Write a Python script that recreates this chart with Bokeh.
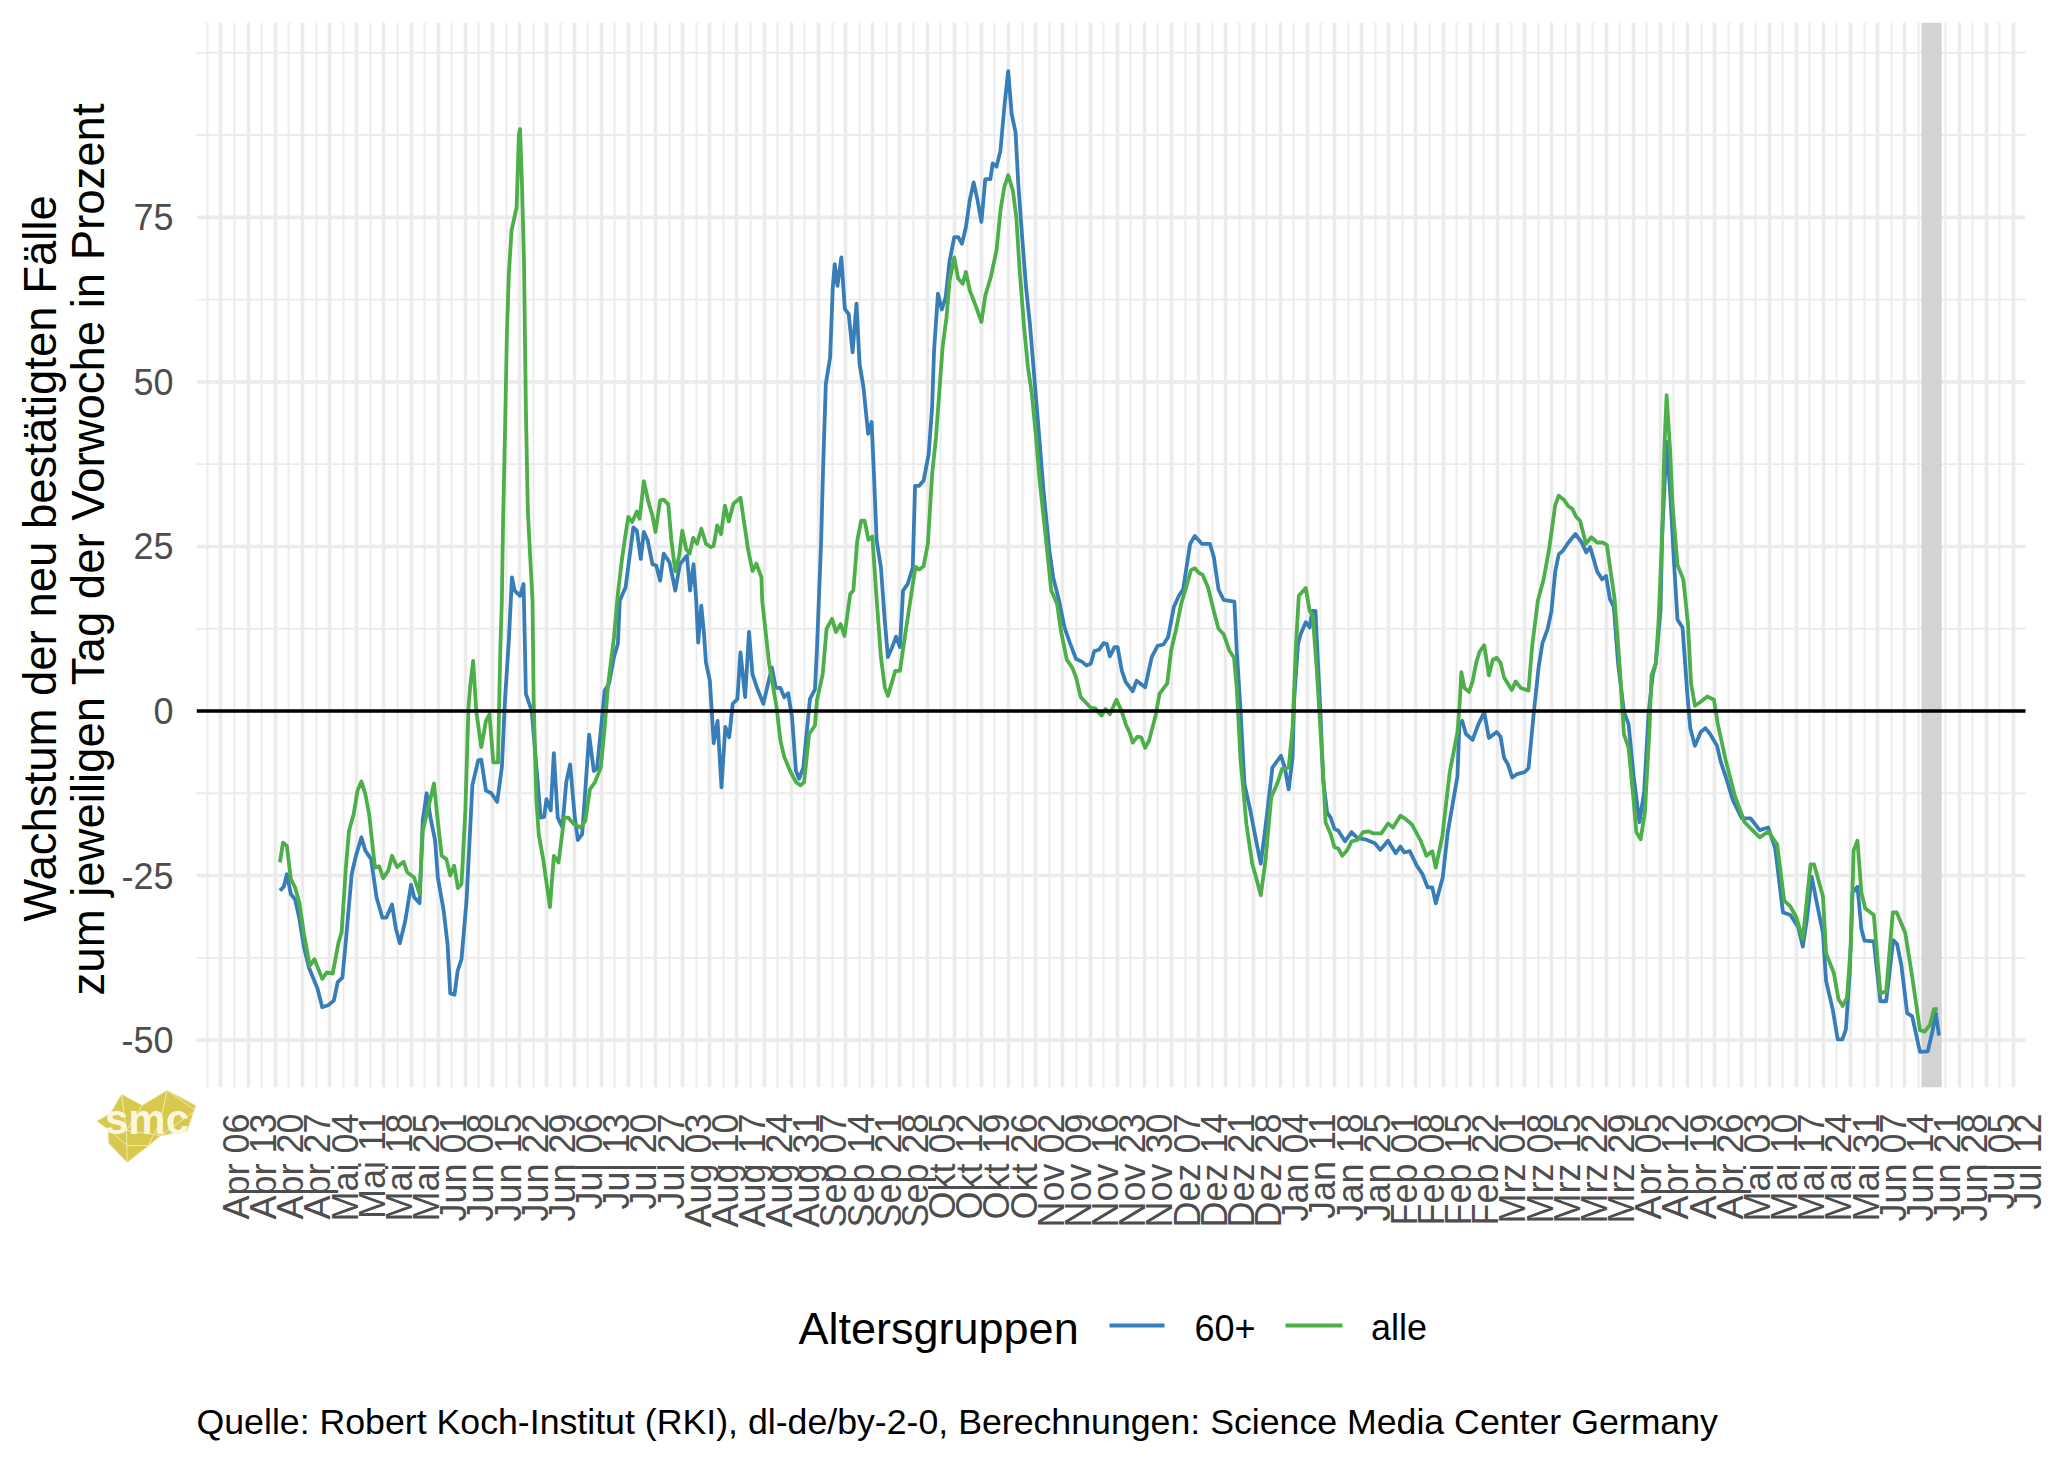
from bokeh.plotting import figure
from bokeh.core.properties import value
from bokeh.models import Range1d, LinearAxis, FixedTicker, Grid
from bokeh.embed import file_html
from bokeh.resources import INLINE

# tick labels, one per week starting Monday 6 April 2020 (x = days since that date)
tick_labels = ["Apr 06","Apr 13","Apr 20","Apr 27","Mai 04","Mai 11","Mai 18","Mai 25",
"Jun 01","Jun 08","Jun 15","Jun 22","Jun 29","Jul 06","Jul 13","Jul 20","Jul 27",
"Aug 03","Aug 10","Aug 17","Aug 24","Aug 31","Sep 07","Sep 14","Sep 21","Sep 28",
"Okt 05","Okt 12","Okt 19","Okt 26","Nov 02","Nov 09","Nov 16","Nov 23","Nov 30",
"Dez 07","Dez 14","Dez 21","Dez 28","Jan 04","Jan 11","Jan 18","Jan 25",
"Feb 01","Feb 08","Feb 15","Feb 22","Mrz 01","Mrz 08","Mrz 15","Mrz 22","Mrz 29",
"Apr 05","Apr 12","Apr 19","Apr 26","Mai 03","Mai 10","Mai 17","Mai 24","Mai 31",
"Jun 07","Jun 14","Jun 21","Jun 28","Jul 05","Jul 12"]

y_major = [-50,-25,0,25,50,75]
y_minor = [-37.5,-12.5,12.5,37.5,62.5,87.5,100]

band_start = [438.3]
band_end = [443.5]

blue_day = [15.2,16.2,17,18,19.1,20.2,21.4,22.7,24.9,26.1,27.6,29.1,30.1,31.3,32.2,33.7,34.7,36.2,37.2,38.7,40.1,41.6,42.6,44.1,45.1,46.1,47.5,49,49.8,51.2,52,53,54,55.2,55.9,57.4,58.4,59.1,60.2,61,62,63.3,64.8,66.3,67.1,68.3,69.7,71.2,72.4,73.2,74.2,75,75.7,77.1,78,78.6,80.1,80.6,82.4,83.3,83.9,85,85.8,86.8,88,89,90,91.2,92,93.1,93.9,94.9,96.1,96.9,97.9,98.9,100,101.3,102.3,102.8,104.3,105.3,106.3,107.2,108.2,109,110,111.2,112.2,113.2,114.1,115.6,117.1,118.3,120.1,120.9,121.8,122.5,123,123.8,124.5,125,126,126.5,127,128,129,130,131,131.9,133.1,133.9,135.1,136.1,137,138.3,139.8,140.8,142,143,144.2,145.2,146.2,147.2,148.2,149,150.1,151.8,153.1,153.6,154.7,155.2,155.9,157,157.7,158.2,158.9,159.9,160.8,161.8,162.8,163.8,164.6,165.6,166.8,167.7,168.3,169,170.1,171.1,171.9,173,174,175,175.8,177,178.3,178.9,179.9,181.1,182.4,183.3,183.8,184.8,185.8,186.8,187.8,189,190,191,192,193,194,195,196,197,198.3,198.9,199.9,200.9,201.9,202.9,203.8,204.8,205.5,206.5,207.5,208.5,209.7,210.7,212,213.5,214.5,216,217.4,218.9,220.4,221.9,223.1,224.2,225.1,226.3,227.5,228.3,229.1,230.3,231.1,232.2,233.2,235,236,238.2,239.9,241.4,242.9,244.1,245.6,246.9,248,249.8,251,252.8,254.9,255.9,257.1,258.4,261.2,261.8,262.8,263.8,265.3,266.8,268,269.2,271,273.2,274.2,275.2,276.2,276.6,277.6,278.3,279.6,280.6,281.3,282.1,282.8,283.4,284.1,285.1,286,287,288,289.7,291.4,292.9,294.9,297.4,298.8,300.8,302.8,304,305,306.4,308.2,309.7,311,312.2,313.1,314.9,316.2,318.7,319.2,319.9,320.9,322.6,324.1,325.6,326.8,328.8,329.8,330.7,331.7,332.8,334,336,337,338.4,339.6,340.6,341.9,342.9,343.9,344.8,345.8,347.3,349.1,350.8,351.9,352.9,354.7,356,357,358,359,360.1,361.6,362.8,364.1,365.6,366.8,368,369,369.8,371,371.5,372.6,373.5,374.4,375.4,376.7,377.9,378.7,379.9,381.4,382.6,383.8,385.6,386.6,387.8,389.7,392,394.2,396.6,398.8,400.6,402.6,404.5,406.5,407.7,408.7,410,411.4,412.9,413.7,415.4,416.7,417.9,418.8,419.8,420.5,421.8,422.8,423.6,426,427.7,429.2,431,432,433.1,434.6,435.9,437.9,439.9,441,442,442.8]
blue_val = [-27.3,-26.7,-24.8,-27.8,-28.6,-31.5,-35.9,-39,-42.2,-45,-44.7,-44,-41.2,-40.5,-34.9,-24.8,-22.2,-19.2,-21.2,-22.5,-28.3,-31.4,-31.4,-29.4,-33.1,-35.3,-31.9,-26.4,-28.3,-29.2,-16.7,-12.5,-16.2,-19.7,-25.3,-30.3,-35.4,-42.9,-43.1,-39.5,-37.7,-28.8,-11.3,-7.5,-7.4,-12.1,-12.5,-13.8,-8.6,1.6,10.7,20.3,18.3,17.5,19.3,2.6,0,-3.5,-16.2,-16.1,-13.4,-15.1,-6.4,-16.2,-17.7,-10.8,-8.1,-16.2,-19.6,-18.7,-12.1,-3.6,-9.1,-8.8,-3,3.1,4.1,8.2,10.2,16.8,18.8,23.4,27.9,27.4,23.1,27.2,25.9,22.3,22.1,19.8,23.9,22.6,18.3,22.3,23.6,18.3,22.3,16.8,10.4,16,11.7,7.4,4.6,0,-4.9,-1.5,-11.6,-2.4,-4,1.1,1.8,8.9,2.1,12,5.6,3.3,1.1,3.6,6.6,3.5,3.5,2.1,2.7,-1,-9.1,-10.3,-8.6,1.8,3.3,9.2,25.9,37,49.7,53.7,64.4,67.9,64.6,68.9,61.1,60.3,54.5,61.9,52.7,49.2,42.1,43.9,36,25.9,21.8,13.7,8.2,9.7,11.3,9.7,18.3,19.3,21.8,34.2,34.2,35,39,46.2,54.8,63.4,61,62.9,68.4,72,72,71,73.5,77.6,80.3,77.6,74.3,80.8,80.8,83.2,82.7,85.1,91.7,97.2,90.7,87.9,80.1,72,64.4,58.8,50.2,43.1,33.5,24.4,20.3,16.8,12.7,10.2,7.9,7.5,6.9,7.2,9.1,9.3,10.3,10.2,8.3,9.7,9.7,6.1,4.4,3,4.6,3.6,8.2,9.9,10.1,11.2,15.8,17.5,18.5,25.4,26.6,25.4,25.4,23.4,18.5,16.9,16.6,9.2,0,-11.1,-15.1,-19.7,-23.2,-17.7,-8.6,-6.8,-8.6,-11.9,-7,1.6,10.2,11.7,13.5,12.7,15.2,15.2,6.6,-0.5,-10.6,-15.4,-16.2,-17.9,-18.2,-19.8,-18.4,-19.3,-19.5,-20.1,-21.1,-19.7,-21.6,-20.6,-21.5,-21.3,-23.5,-24.8,-26.8,-26.8,-29.2,-25.3,-18.4,-9.9,-2,-1.5,-3.5,-4.4,-2,-0.2,-4.1,-3.2,-3.9,-7.1,-8.1,-10.1,-9.6,-9.3,-8.7,-0.1,6.6,10.3,12.4,15.1,21.2,23.8,24.3,25.6,26.9,25.5,24.1,24.9,21.2,20,20.5,17,15.8,7.2,-0.1,-2,-9.9,-16.9,-12.3,-0.1,5.4,7.2,15.1,27.4,40.9,33.5,23.7,13.9,12.7,2.9,-2.6,-5.3,-3.2,-2.6,-3.5,-5.3,-7.8,-9.9,-13.6,-16.3,-16.3,-18.1,-17.7,-20.9,-30.6,-31,-32.8,-35.8,-31.9,-25.2,-29.4,-33.7,-41,-45.3,-49.9,-49.9,-48.4,-39.8,-27.6,-26.7,-33.1,-34.9,-35,-44.1,-44.1,-34.8,-35.4,-38.6,-45.9,-46.4,-51.8,-51.7,-49,-45.9,-49.3]

green_day = [15.2,16,17,18,19.1,20.2,21.4,22.9,24.1,26.1,27.3,28.8,30.3,31.1,32.2,33,34.2,35.2,36.2,37.2,38.2,39.7,40.8,41.8,43.1,44.1,45.4,47.1,48,49.8,51.2,52,53.5,54.9,55.7,56.9,58.1,59.1,60.1,61.1,62,63,63.8,64.3,65,65.8,67.1,68.3,69.2,70.2,71.4,72,72.4,72.7,73.2,73.7,74.2,74.9,76.2,76.8,77.1,77.6,78.1,78.6,79.1,79.8,80.3,80.6,81.3,81.9,83.1,84.8,85.8,87,88.5,89.5,91,92.7,93.9,95.1,96.4,97.9,98.9,99.8,101.3,102.3,103.3,104.3,105,106,107.2,107.9,109,110.2,111.2,112,113.2,114.1,115.3,116.1,117.1,118.1,118.9,119.9,120.8,121.7,122.7,123.8,125,126.3,127,127.9,128.9,129.9,130.9,132.1,133.9,134.9,135.9,137,138,139.3,139.5,141.3,143.2,144.2,145.2,146.7,148.2,149.4,150.3,151.6,153.1,153.6,155.1,156.1,157.5,158.5,159.7,160.7,162.2,163,164,165,165.9,166.9,167.9,168.9,170.1,171.1,171.9,173.8,175,176.5,179,180,181.1,182.2,183.3,184.3,185.3,186,187,187.8,189,190,191.2,192,193,194.7,196,197,198.4,199.9,200.9,201.9,202.9,204.1,205,205.8,207,208,209,210,211,212.5,214,215.5,216.5,218,219.4,220.4,221.6,222.9,224.2,225.3,227,228,229.1,230.8,232.2,233.2,234.2,235,236.2,237.2,238.2,239.2,240.9,241.9,243.9,244.9,246.1,247.5,249,250,251,252,253,254.4,255.9,257.1,258.4,259.9,261.1,261.8,262.8,263.3,264.3,265.8,266.8,268,269.2,270.7,272.2,273.5,275.2,276.2,277.1,277.8,279.6,280.6,281.4,282.4,283.4,284.1,284.7,286,287,288,289,290.2,291.4,292.9,294.4,295.9,297,299.1,300.8,302.1,304,305.3,306.9,309.2,310.7,312.2,313.1,314.8,316.7,318.7,319.2,319.7,320.5,321.7,322.6,323.6,324.4,325.6,326.8,327.8,328.8,329.8,330.7,332.7,333.7,335,337,337.9,339.4,340.9,342.4,343.9,344.8,346.1,347.3,348.3,349.3,350.3,351.8,353.2,354.7,356.2,357.2,359.2,360.6,361.6,362.8,364.1,364.8,365.9,367,368.2,368.7,369.8,370.5,371.5,372,372.6,373.5,374.1,375.4,376.9,378.1,378.9,379.9,381.4,383.1,384.8,385.8,387.8,390.2,392.7,394.7,396.6,398.8,401.1,402.9,404.5,406,407.7,409.7,410.6,412.9,413.7,415.7,416.9,418,419.1,420.1,420.8,421.8,422.8,423.8,426,427.7,429.2,430.9,431.9,434.1,435.9,437.9,439.1,440.5,441.5,442.5]
green_val = [-23,-20,-20.5,-25.5,-26.8,-29.1,-33.9,-38.7,-37.7,-40.7,-39.7,-39.9,-35.2,-33.6,-23.8,-18.2,-15.7,-12.1,-10.7,-12.6,-15.7,-23.8,-23.6,-25.4,-24.3,-22,-23.7,-22.9,-24.5,-25.3,-27.8,-18.2,-14.6,-11,-15.7,-22,-22.5,-25,-23.5,-26.9,-26.3,-15.1,0.6,4.1,7.6,0,-5.5,-1.5,-0.5,-7.8,-7.8,9.2,16.8,28.4,42.1,57.3,66.4,73,76.5,87.7,88.4,79.8,68.4,45.6,30.4,22.3,16.8,1.6,-13.6,-18.7,-22.7,-29.8,-22,-23,-16.2,-16.2,-17.2,-17.7,-16.7,-11.9,-10.8,-8.6,-2.5,4.1,11.2,17.8,22.8,26.9,29.5,28.7,30.3,29.2,34.9,31.7,29.7,27.2,32,32.1,31.4,25.9,21.2,23.6,27.4,24.6,23.9,26.3,25.4,27.7,25.4,24.9,25.1,28.2,26.9,31.2,28.8,31.5,32.4,28.4,24.4,21.3,22.4,20.3,16.8,7.1,0.6,-4.5,-7,-9.1,-10.8,-11.3,-10.8,-3.5,-2.2,1.6,5.6,12.5,14,12,13.2,11.4,17.8,18.3,25.9,28.9,28.9,26,26.5,17.8,8.2,3.6,2.3,6.1,6.1,12.2,21.9,21.5,22,25.4,36,41.6,49.7,55.3,59.8,65.4,68.9,65.7,64.9,66.7,63.9,61.3,59.1,63.1,65.9,70,76,79.6,81.4,79.1,75,67.4,58.3,52.2,48.2,42.1,35,26.9,18.3,16.3,12.2,7.8,6.6,5.1,2.1,1.3,0.5,0.4,-0.7,0.3,-0.5,1.7,-0.1,-2,-3.3,-4.8,-3.9,-4,-5.6,-4.5,-0.7,2.6,4.2,9.2,12.2,16.3,19.3,21.4,21.7,21,20.7,18.8,15.2,12.5,11.7,9.2,8.1,3.6,-7.5,-10.6,-17.2,-23.2,-25.3,-28,-22.8,-13.1,-11.1,-8.8,-8.6,-2.5,10.2,17.5,18.7,15.2,14.5,6.6,-3,-9.6,-16.9,-18.7,-20.7,-20.9,-22,-21.2,-19.8,-19.6,-18.4,-18.3,-18.6,-18.6,-17.1,-17.7,-15.9,-16.4,-17.2,-19.7,-22,-21.3,-23.8,-19,-9.3,-3.2,0.5,5.9,3.5,2.9,4.5,7.5,9,10,5.4,7.8,8.1,7.3,5.1,3.2,4.5,3.5,3.1,9.6,16.7,20,24.9,31.3,32.7,32.1,31.1,30.7,29.5,28.9,25.4,26.4,25.6,25.6,25.2,17,6,-3.5,-5.6,-13.6,-18.4,-19.5,-15.4,-2.6,5.4,7.2,13.3,27.4,39.6,48,39.6,31.6,22.2,20,13.3,4.2,0.8,1.4,2.2,1.7,-2,-7.4,-12.9,-16.9,-18.1,-19.2,-18.3,-20.3,-28.8,-29.7,-31.3,-34.6,-23.3,-23.3,-28.2,-36.8,-39.8,-43.8,-44.8,-43.5,-35.5,-21.2,-19.7,-27.6,-30,-31,-42.9,-42.6,-30.6,-30.6,-33.7,-40.4,-48.5,-48.7,-47.7,-45.3,-45.3]

y_title_lines = ["Wachstum der neu bestätigten Fälle", "zum jeweiligen Tag der Vorwoche in Prozent"]
caption = "Quelle: Robert Koch-Institut (RKI), dl-de/by-2-0, Berechnungen: Science Media Center Germany"
legend_title = "Altersgruppen"
series_names = ["60+", "alle"]

BLUE, GREEN, GRID, TICK = "#377EB8", "#4DAF4A", "#EBEBEB", "#4D4D4D"
FONT = "Liberation Sans"
X0, X1, Y0, Y1 = -6.3, 465.1, -57.2, 104.6   # the panel as drawn
W, H = 2048, 1462
FL, FR, FT, FB = 196, 2025, 22, 1087   # panel edges on the page
PX_PER_DAY = (FR - FL) / (X1 - X0)
XR = X0 + (W - FL) / PX_PER_DAY        # the frame runs on to the page edge so "Jul 12" can show
LABEL_SHIFT = 4.0   # rotated x labels sit to the right of their tick, as in ggplot

p = figure(width=W, height=H, output_backend="svg", toolbar_location=None,
           x_range=Range1d(X0, XR), y_range=Range1d(Y0, Y1),
           x_axis_location=None, min_border_left=FL, min_border_right=0,
           min_border_top=FT, min_border_bottom=H - FB, outline_line_color=None,
           background_fill_color="white", border_fill_color="white")
p.extra_x_ranges["labels"] = Range1d(X0 - LABEL_SHIFT, XR - LABEL_SHIFT)

tick_days = [7 * i for i in range(len(tick_labels))]
minor_days = [d - 3.5 for d in tick_days]

xaxis = LinearAxis(x_range_name="labels", ticker=FixedTicker(ticks=tick_days),
                   major_label_overrides={d: t for d, t in zip(tick_days, tick_labels)},
                   major_label_orientation=1.5707963, major_label_standoff=20,
                   major_label_text_font=FONT, major_label_text_font_size="36px",
                   major_label_text_color=TICK, axis_line_color=None,
                   major_tick_line_color=None, minor_tick_line_color=None)
p.add_layout(xaxis, "below")

yax = p.yaxis[0]
yax.ticker = FixedTicker(ticks=y_major)
yax.major_label_overrides = {v: str(v) for v in y_major}
yax.major_label_text_font = FONT
yax.major_label_text_font_size = "36px"
yax.major_label_text_color = TICK
yax.major_label_standoff = 17
yax.axis_line_color = None
yax.major_tick_line_color = None
yax.minor_tick_line_color = None

p.xgrid.visible = False
for g in p.ygrid:
    g.visible = False
p.add_layout(Grid(dimension=0, ticker=FixedTicker(ticks=tick_days, minor_ticks=minor_days),
                  grid_line_color=GRID, grid_line_width=3.6,
                  minor_grid_line_color=GRID, minor_grid_line_width=1.9))
p.segment(x0=X0, x1=X1, y0=y_minor, y1=y_minor, line_color=GRID, line_width=1.9)
p.segment(x0=X0, x1=X1, y0=y_major, y1=y_major, line_color=GRID, line_width=3.6)

p.quad(left=band_start, right=band_end, bottom=[Y0], top=[Y1], fill_color="#D3D3D3", line_color=None)
p.line(blue_day, blue_val, line_color=BLUE, line_width=3.8, line_join="round")
p.line(green_day, green_val, line_color=GREEN, line_width=3.8, line_join="round")
p.segment(x0=[X0], x1=[X1], y0=[0], y1=[0], line_color="black", line_width=3.4)

# A transparent layer over the whole page, in page pixels, for what lies outside the plot frame:
# y axis title, logo, legend and source line.
page = figure(width=W, height=H, output_backend="svg", toolbar_location=None,
              x_range=Range1d(0, W), y_range=Range1d(H, 0), x_axis_location=None, y_axis_location=None,
              min_border=0, outline_line_color=None, background_fill_alpha=0, border_fill_alpha=0,
              styles={"position": "absolute", "left": "0", "top": "0"})
page.grid.visible = False

def put(x, y, text, size, color="black", **kw):
    page.text([x], [y], text=[text], text_font=value(FONT), text_font_size=size,
              text_color=color, text_baseline="alphabetic", **kw)

# y axis title
put(40, 558, y_title_lines[0], "45.5px", angle=1.5707963, text_align="center")
put(88, 548.5, y_title_lines[1], "45.5px", angle=1.5707963, text_align="center")

# legend
put(798, 1328, legend_title, "45px")
page.line([1109, 1164], [1325, 1325], line_color=BLUE, line_width=3.8)
put(1194, 1327, series_names[0], "36px")
page.line([1285, 1342], [1325, 1325], line_color=GREEN, line_width=3.8)
put(1370.5, 1327, series_names[1], "36px")

# source line
put(196, 1421, caption, "35.7px")

# small gold "smc" logo below the y axis
logo_x = [96.7,110,121,141.7,166.7,195,186.7,160,148,126.7,108.3,108]
logo_y = [1120.7,1113,1094,1105,1090,1105,1130,1135,1145,1161.7,1142.7,1129]
page.patch(logo_x, logo_y, fill_color="#D9C84E", line_color="#E6DA8A", line_width=1)
page.multi_line([[121,126,126.7],[108,126.7,148],[141.7,126,160],[166.7,160,148],[166.7,195,160]],
                [[1094,1130,1161.7],[1129,1145,1145],[1105,1130,1135],[1090,1120,1145],[1090,1110,1135]],
                line_color="#F1E9B5", line_width=1)
put(146.5, 1119, "smc", "42px", color="#FBF7DE", text_align="center", text_font_style="bold")

open("out.html", "w").write(file_html((p, page), INLINE))
